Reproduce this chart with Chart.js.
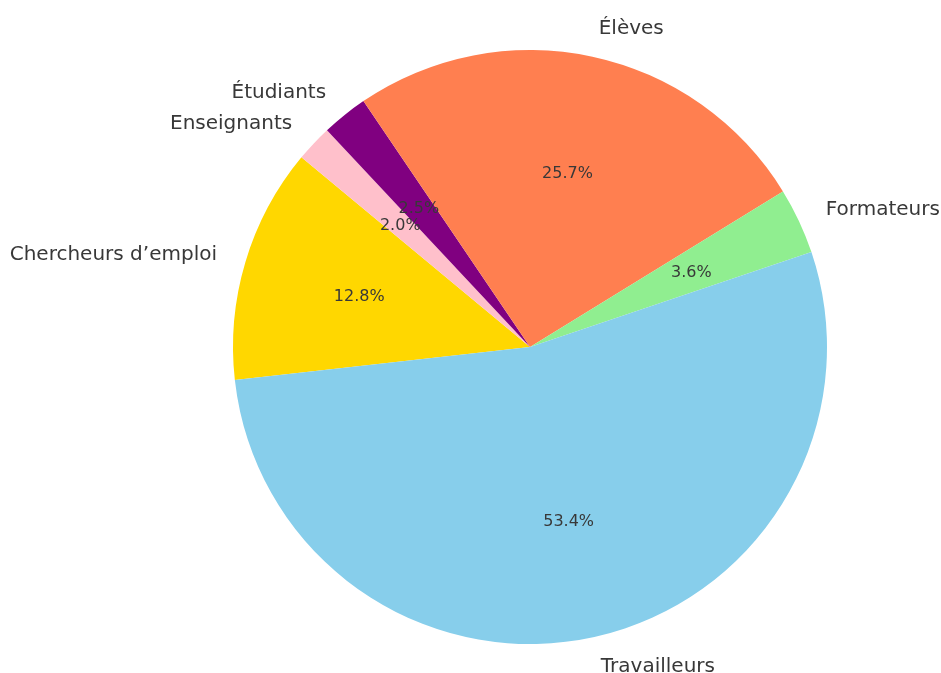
<!DOCTYPE html>
<html>
<head>
<meta charset="utf-8">
<script src="https://cdn.jsdelivr.net/npm/chart.js@4/dist/chart.umd.min.js"></script>
<style>
  html, body { margin: 0; padding: 0; background: #ffffff; }
  #wrap { width: 941px; height: 673px; position: relative; }
</style>
</head>
<body>
<div id="wrap"><canvas id="pieChart"></canvas></div>
<script>
// data, in drawing order (clockwise from the left edge)
const categories = ['Chercheurs d’emploi', 'Enseignants', 'Étudiants', 'Élèves', 'Formateurs', 'Travailleurs'];
const shares = [12.8, 2.0, 2.5, 25.7, 3.6, 53.4];
const sliceColors = ['#FFD700', '#FFC0CB', '#800080', '#FF7F50', '#90EE90', '#87CEEB'];

// outside labels + percentages, matplotlib style
const pieText = {
    id: 'pieText',
    afterDatasetsDraw(chart) {
        const ctx = chart.ctx;
        const arcs = chart.getDatasetMeta(0).data;
        const total = shares.reduce((a, b) => a + b, 0);
        ctx.save();
        ctx.fillStyle = '#383838';
        arcs.forEach((arc, i) => {
            const mid = (arc.startAngle + arc.endAngle) / 2;
            const r = arc.outerRadius;
            const cx = Math.cos(mid), cy = Math.sin(mid);

            // category name at 1.1 r
            ctx.font = '20px "DejaVu Sans"';
            ctx.textBaseline = 'middle';
            ctx.textAlign = cx < 0 ? 'right' : 'left';
            ctx.fillText(categories[i], arc.x + cx * r * 1.1, arc.y + cy * r * 1.1 + 1);

            // percentage at 0.6 r
            ctx.font = '16px "DejaVu Sans"';
            ctx.textAlign = 'center';
            const pct = (shares[i] / total * 100).toFixed(1) + '%';
            ctx.fillText(pct, arc.x + cx * r * 0.6, arc.y + cy * r * 0.6 + 1);
        });
        ctx.restore();
    }
};

new Chart(document.getElementById('pieChart'), {
    type: 'pie',
    data: {
        labels: categories,
        datasets: [{ data: shares, backgroundColor: sliceColors, borderWidth: 0 }]
    },
    options: {
        responsive: true,
        maintainAspectRatio: false,
        animation: false,
        rotation: 263.6,
        layout: { padding: { left: 233, right: 114, top: 50, bottom: 29 } },
        plugins: {
            legend: { display: false },
            tooltip: { enabled: false }
        }
    },
    plugins: [pieText]
});
</script>
</body>
</html>
